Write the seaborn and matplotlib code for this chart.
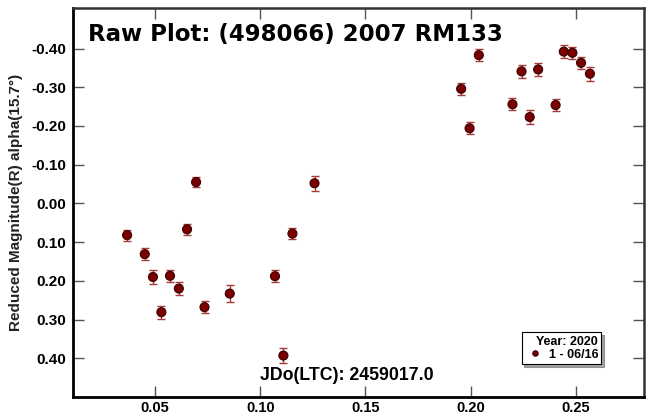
import matplotlib
matplotlib.use("Agg")
import matplotlib.pyplot as plt
import seaborn as sns
import pandas as pd

jd = [0.0367, 0.0451, 0.0490, 0.0530, 0.0571, 0.0613, 0.0652, 0.0695, 0.0735, 0.0855,
      0.1070, 0.1110, 0.1153, 0.1258, 0.1955, 0.1995, 0.2039, 0.2199, 0.2242, 0.2281,
      0.2321, 0.2404, 0.2443, 0.2484, 0.2525, 0.2567]
mag = [0.082, 0.131, 0.190, 0.281, 0.187, 0.220, 0.067, -0.055, 0.268, 0.233,
       0.188, 0.393, 0.078, -0.052, -0.296, -0.194, -0.383, -0.256, -0.341, -0.223,
       -0.346, -0.254, -0.392, -0.389, -0.363, -0.335]
err = [0.014, 0.015, 0.018, 0.017, 0.015, 0.017, 0.015, 0.013, 0.016, 0.021,
       0.016, 0.020, 0.015, 0.020, 0.015, 0.015, 0.016, 0.016, 0.016, 0.018,
       0.016, 0.016, 0.016, 0.016, 0.016, 0.018]
series_label = "1 - 06/16"
legend_title = "Year: 2020"
title = "Raw Plot: (498066) 2007 RM133"
xlabel = "JDo(LTC): 2459017.0"
ylabel = "Reduced Magnitude(R) alpha(15.7°)"
xticks = [0.05, 0.10, 0.15, 0.20, 0.25]
yticks = [-0.40, -0.30, -0.20, -0.10, 0.00, 0.10, 0.20, 0.30, 0.40]

df = pd.DataFrame({"jd": jd, "mag": mag, "err": err, "session": series_label})

sns.set_style("white")
plt.rcParams['font.family'] = ['Liberation Sans', 'DejaVu Sans']
plt.rcParams['text.color'] = 'black'
plt.rcParams['axes.labelcolor'] = 'black'
plt.rcParams['xtick.color'] = 'black'
plt.rcParams['ytick.color'] = 'black'

fig = plt.figure(figsize=(6.52, 4.15), dpi=100)
ax = fig.add_axes([0.112, 0.0434, 0.876, 0.9376])

ax.errorbar(df["jd"], df["mag"], yerr=df["err"], fmt="none", ecolor="#a83a3a",
            elinewidth=1.0, capsize=3, capthick=1.0, zorder=2)
sns.scatterplot(data=df, x="jd", y="mag", hue="session", palette=["#7a0000"],
                s=42, edgecolor="#3a0000", linewidth=0.8, ax=ax, zorder=3, legend=True)

ax.set_xlim(0.011, 0.2825)
ax.set_ylim(0.50, -0.505)
ax.set_xticks(xticks)
ax.set_xticklabels([f"{t:.2f}" for t in xticks], fontweight="bold", fontsize=10.5)
ax.set_yticks(yticks)
ax.set_yticklabels([f"{t:.2f}" for t in yticks], fontweight="bold", fontsize=11)
ax.tick_params(direction="in", length=8, width=1.0, color="#555555", labelcolor="black",
               top=True, right=True, bottom=True, left=True, pad=5)
ax.tick_params(axis="x", pad=3)
ax.set_xlabel("")
ax.set_ylabel(ylabel, fontweight="bold", fontsize=11, labelpad=6, color="#222222")

for side in ["left", "bottom"]:
    ax.spines[side].set_color("black")
    ax.spines[side].set_linewidth(2.0)
for side in ["top", "right"]:
    ax.spines[side].set_color("#333333")
    ax.spines[side].set_linewidth(1.8)

ax.text(0.026, 0.962, title, transform=ax.transAxes, fontsize=16.5, fontweight="bold",
        family=["DejaVu Sans"], ha="left", va="top", color="black")
ax.text(0.48, 0.034, xlabel, transform=ax.transAxes, fontsize=12.8, fontweight="bold",
        ha="center", va="bottom", color="black")

handles, labels = ax.get_legend_handles_labels()
leg = ax.legend(handles, [series_label], title=legend_title, loc="lower right",
                bbox_to_anchor=(0.925, 0.085), frameon=True, fancybox=False, shadow=True,
                prop={"weight": "bold", "size": 9}, title_fontproperties={"weight": "bold", "size": 9},
                handletextpad=0.3, borderpad=0.25, labelspacing=0.1, handlelength=1.6,
                markerscale=0.6, alignment="right", borderaxespad=0)
leg.get_frame().set_edgecolor("black")
leg.get_frame().set_linewidth(0.8)

fig.savefig("out.png", dpi=100)
